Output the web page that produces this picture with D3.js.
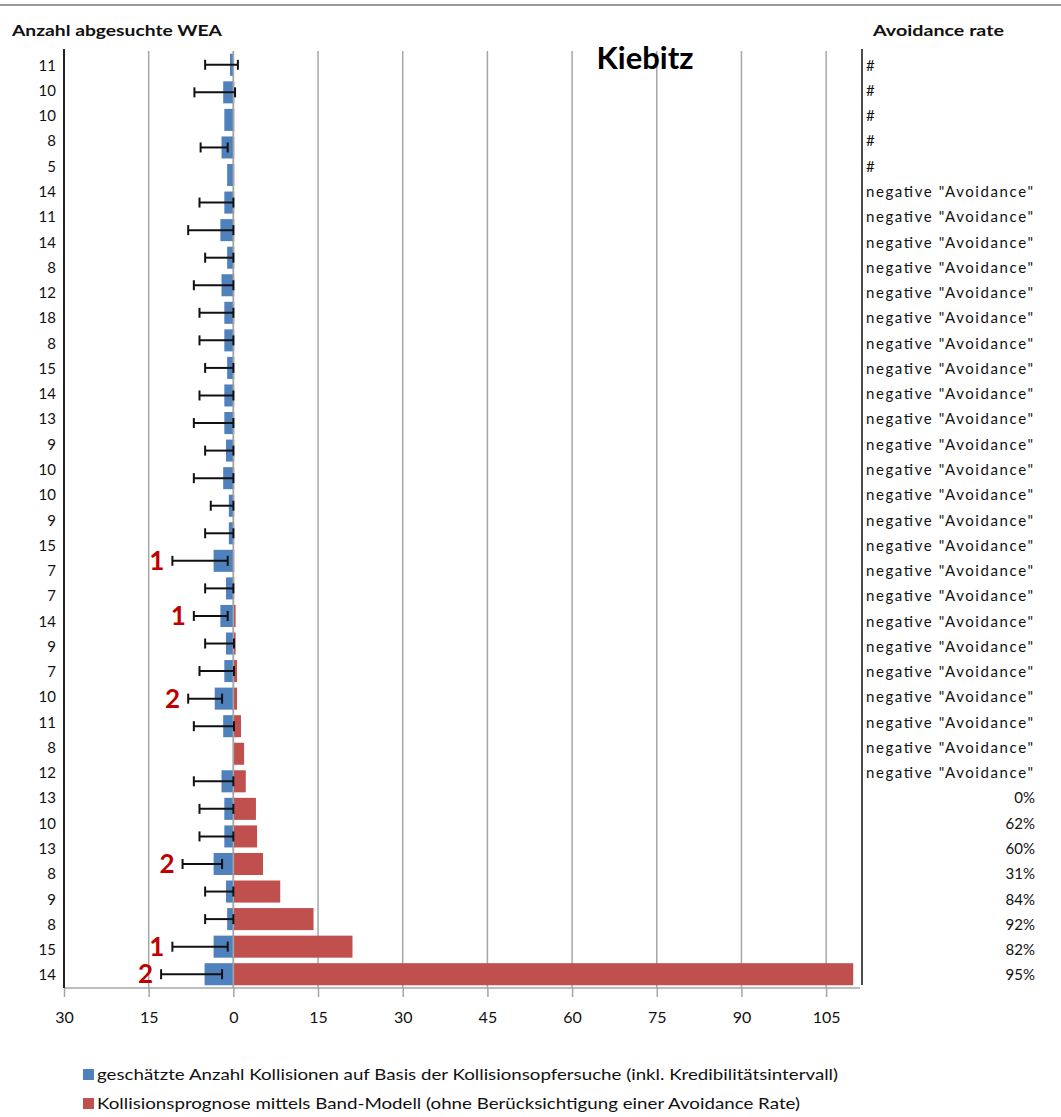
<!DOCTYPE html>
<html><head><meta charset="utf-8">
<script src="https://cdn.jsdelivr.net/npm/d3@7"></script>
<style>body{margin:0;background:#fff}svg{display:block;font-family:Lato,"Open Sans",sans-serif}</style>
</head><body><svg id="c" width="1061" height="1117"></svg>
<script>
// Table column: number of searched turbines (left) and avoidance rate (right)
const weaLabels = ["11","10","10","8","5","14","11","14","8","12","18","8","15","14","13","9","10","10","9","15","7","7","14","9","7","10","11","8","12","13","10","13","8","9","8","15","14"];
const avoidLabels = ["#","#","#","#","#",
  'negative "Avoidance"','negative "Avoidance"','negative "Avoidance"','negative "Avoidance"','negative "Avoidance"','negative "Avoidance"',
  'negative "Avoidance"','negative "Avoidance"','negative "Avoidance"','negative "Avoidance"','negative "Avoidance"','negative "Avoidance"',
  'negative "Avoidance"','negative "Avoidance"','negative "Avoidance"','negative "Avoidance"','negative "Avoidance"','negative "Avoidance"',
  'negative "Avoidance"','negative "Avoidance"','negative "Avoidance"','negative "Avoidance"','negative "Avoidance"','negative "Avoidance"',
  "0%","62%","60%","31%","84%","92%","82%","95%"];
// Bars (34 sites)
const estCollisions = [0.6,1.8,1.6,2.1,1.1,1.6,2.3,1.1,2.1,1.6,1.6,1.1,1.6,1.6,1.3,1.8,0.8,0.8,3.5,1.3,2.3,1.3,1.6,3.3,1.8,null,2.1,1.6,1.6,3.5,1.3,1.1,3.5,5.1];
const ciLow  = [-0.8,-0.3,null,1,null,0,0,0,0,0,0,0,0,0,0,0,0,0,1,0,1,-0.1,-0.1,2,-0.1,null,0,0,0,2,0,0,1,2];
const ciHigh = [5,6.9,null,5.8,null,6,8,5,7,6,6,5,6,7,5,7,4,5,10.8,5,7,5,6,8,7,null,7,6,6,9,5,5,10.8,12.8];
const bandModel = [0,0.15,0.15,0.15,0.15,0.15,0.15,0.15,0.15,0.15,0.15,0.15,0.15,0.15,0.15,0.15,0.15,0.15,0.15,0.15,0.4,0.4,0.65,0.65,1.35,1.9,2.2,4.0,4.2,5.25,8.3,14.2,21.1,109.8];
const foundVictims = [null,null,null,null,null,null,null,null,null,null,null,null,null,null,null,null,null,null,"1",null,"1",null,null,"2",null,null,null,null,null,"2",null,null,"1","2"];
const xTicks = [-30,-15,0,15,30,45,60,75,90,105];
const legendLabels = ["geschätzte Anzahl Kollisionen auf Basis der Kollisionsopfersuche (inkl. Kredibilitätsintervall)",
                      "Kollisionsprognose mittels Band-Modell (ohne Berücksichtigung einer Avoidance Rate)"];
const colors = ["#4f81bd","#c0504d"];

const svg = d3.select("#c");
const pTop = 51, pBottom = 988, pLeft = 64, pRight = 860;
const x = d3.scaleLinear().domain([-30,111]).range([pLeft,pRight]);
const idx = d3.range(estCollisions.length);
const y = d3.scaleBand().domain(idx).range([pTop,pBottom]).paddingInner(0.2).paddingOuter(0.1);
const yl = d3.scaleBand().domain(d3.range(weaLabels.length)).range([53,988]);

// top rule
svg.append("line").attr("x1",0).attr("x2",1061).attr("y1",5).attr("y2",5).attr("stroke","#999").attr("stroke-width",2);

// gridlines
svg.append("g").selectAll("line").data(xTicks.filter(t=>t!==-30)).join("line")
  .attr("x1",d=>x(d)).attr("x2",d=>x(d)).attr("y1",pTop).attr("y2",pBottom)
  .attr("stroke","#a6a6a6").attr("stroke-width",1.5);

// bottom axis
const ax = svg.append("g").attr("transform",`translate(0,${pBottom})`)
  .call(d3.axisBottom(x).tickValues(xTicks).tickFormat(d=>Math.abs(d)).tickSize(9).tickPadding(15));
ax.select(".domain").attr("stroke","#a6a6a6").attr("stroke-width",1.5).attr("d",`M${pLeft},0H${pRight}`);
ax.selectAll(".tick line").attr("stroke","#a6a6a6").attr("stroke-width",1.5);
ax.selectAll(".tick text").attr("font-size",16).attr("fill","#111").attr("font-family","Lato,sans-serif");

// left axis line & right border
svg.append("line").attr("x1",pLeft).attr("x2",pLeft).attr("y1",pTop-2).attr("y2",pBottom).attr("stroke","#222").attr("stroke-width",2);
svg.append("line").attr("x1",862).attr("x2",862).attr("y1",pTop-2).attr("y2",985).attr("stroke","#111").attr("stroke-width",1.5);

// red bars
svg.append("g").selectAll("rect").data(idx.filter(i=>bandModel[i]>0)).join("rect")
  .attr("x",x(0)).attr("y",i=>y(i)).attr("height",y.bandwidth())
  .attr("width",i=>x(bandModel[i])-x(0)).attr("fill",colors[1]);
// blue bars
svg.append("g").selectAll("rect").data(idx.filter(i=>estCollisions[i]!=null)).join("rect")
  .attr("x",i=>x(-estCollisions[i])).attr("y",i=>y(i)).attr("height",y.bandwidth())
  .attr("width",i=>x(0)-x(-estCollisions[i])).attr("fill",colors[0]);
// zero line
svg.append("line").attr("x1",x(0)).attr("x2",x(0)).attr("y1",pTop).attr("y2",pBottom).attr("stroke","#a6a6a6").attr("stroke-width",1.5);

// error bars
const eg = svg.append("g").attr("stroke","#111").attr("stroke-width",2);
idx.filter(i=>ciHigh[i]!=null).forEach(i=>{
  const cy = y(i)+y.bandwidth()/2, x1 = x(-ciHigh[i]), x2 = x(-ciLow[i]);
  eg.append("line").attr("x1",x1).attr("x2",x2).attr("y1",cy).attr("y2",cy);
  eg.append("line").attr("x1",x1).attr("x2",x1).attr("y1",cy-5).attr("y2",cy+5);
  eg.append("line").attr("x1",x2).attr("x2",x2).attr("y1",cy-5).attr("y2",cy+5);
});

// found victims markers
svg.append("g").selectAll("text").data(idx.filter(i=>foundVictims[i])).join("text")
  .attr("x",i=>x(-ciHigh[i])-8).attr("y",i=>y(i)+y.bandwidth()/2+9)
  .attr("text-anchor","end").attr("font-size",26).attr("font-weight","bold").attr("fill","#c00000")
  .text(i=>foundVictims[i]);

// left table labels
svg.append("g").selectAll("text").data(weaLabels).join("text")
  .attr("x",56).attr("y",(d,i)=>yl(i)+yl.bandwidth()/2+5).attr("text-anchor","end")
  .attr("font-size",15).attr("fill","#111").text(d=>d);
// right table labels
svg.append("g").selectAll("text").data(avoidLabels).join("text")
  .attr("x",d=>d.endsWith("%")?1035:866).attr("y",(d,i)=>yl(i)+yl.bandwidth()/2+5)
  .attr("text-anchor",d=>d.endsWith("%")?"end":"start")
  .attr("font-size",15).attr("fill","#111")
  .each(function(d){ if(d.startsWith("negative")) d3.select(this).attr("textLength",167).attr("lengthAdjust","spacing"); })
  .text(d=>d);

// headers
svg.append("text").attr("x",12).attr("y",36).attr("font-size",16).attr("font-weight","bold").attr("fill","#111")
  .attr("textLength",210).attr("lengthAdjust","spacingAndGlyphs").text("Anzahl abgesuchte WEA");
svg.append("text").attr("x",873).attr("y",36).attr("font-size",16).attr("font-weight","bold").attr("fill","#111")
  .attr("textLength",131).attr("lengthAdjust","spacingAndGlyphs").text("Avoidance rate");
svg.append("text").attr("x",645).attr("y",69).attr("text-anchor","middle").attr("font-size",31).attr("font-weight","bold").attr("fill","#000").text("Kiebitz");

// legend
const lg = svg.append("g").selectAll("g").data(legendLabels).join("g")
  .attr("transform",(d,i)=>`translate(83,${1075+i*29})`);
lg.append("rect").attr("x",0).attr("y",-6).attr("width",11).attr("height",11).attr("fill",(d,i)=>colors[i]);
lg.append("text").attr("x",14).attr("y",5).attr("font-size",15).attr("fill","#111")
  .attr("textLength",(d,i)=>i===0?741:703).attr("lengthAdjust","spacingAndGlyphs").text(d=>d);
</script></body></html>
